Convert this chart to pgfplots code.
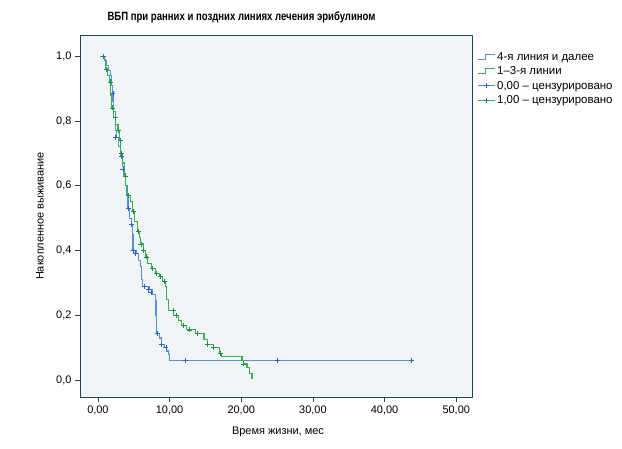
\documentclass[border=0pt]{standalone}
\usepackage{fontspec}
\setmainfont{Liberation Sans}
\usepackage{pgfplots}
\pgfplotsset{compat=1.18}
\definecolor{bl}{RGB}{85,145,220}
\definecolor{blm}{RGB}{45,95,205}
\definecolor{gr}{RGB}{60,175,80}
\definecolor{grm}{RGB}{25,145,75}
\definecolor{frame}{RGB}{30,70,85}
\definecolor{bg}{RGB}{242,245,248}
\begin{document}
\begin{tikzpicture}
\path[use as bounding box] (-80bp,-52bp) rectangle (542bp,397bp);
\begin{axis}[
  at={(0,0)}, anchor=south west,
  scale only axis, width=392bp, height=362bp,
  xmin=-2.5, xmax=52.2, ymin=-0.052, ymax=1.065,
  axis background/.style={fill=bg},
  axis line style={frame, line width=0.9pt},
  xtick={0,10,...,50}, ytick={0,0.2,0.4,0.6,0.8,1.0},
  tick align=outside, xtick pos=bottom, ytick pos=left,
  major tick length=5bp,
  tick style={frame, line width=0.7pt},
  /pgf/number format/assume math mode=true,
  xticklabel style={/pgf/number format/.cd, use comma, fixed, fixed zerofill, precision=2},
  yticklabel style={/pgf/number format/.cd, use comma, fixed, fixed zerofill, precision=1},
  ticklabel style={font=\fontsize{11}{13}\selectfont},
  xlabel={Время жизни, мес},
  ylabel={Накопленное выживание},
  label style={font=\fontsize{11}{13}\selectfont},
  xlabel style={at={(axis description cs:0.505,-0.097)}, anchor=center},
  ylabel style={at={(axis description cs:-0.102,0.5)}, anchor=center},
  title={\scalebox{0.8}[1]{ВБП при ранних и поздних линиях лечения эрибулином}},
  title style={font=\bfseries\fontsize{12}{14}\selectfont, at={(axis description cs:0.412,1)}, anchor=center, yshift=12bp},
  legend style={at={(axis description cs:1,1)}, anchor=north west, xshift=2bp, yshift=-13bp,
    draw=none, fill=none, font=\fontsize{11.5}{13}\selectfont, row sep=1bp},
  legend cell align=left,
]
\addplot[bl, line width=1.1pt, const plot, mark=none,
  legend image code/.code={\draw[color=bl, line width=1pt] (0bp,-2.5bp) -- (8bp,-2.5bp) -- (8bp,2.5bp) -- (17bp,2.5bp);}]
coordinates {
(0.3,1.0) (0.9,0.985) (1.2,0.97) (1.5,0.955) (1.7,0.94) (1.9,0.91) (2.0,0.885) (2.1,0.86)
(2.2,0.83) (2.4,0.80) (2.5,0.77) (2.6,0.75) (2.9,0.72) (3.2,0.69) (3.4,0.66) (3.6,0.63)
(3.8,0.60) (4.0,0.57) (4.2,0.53) (4.4,0.50) (4.7,0.48) (4.8,0.45) (4.9,0.40) (5.4,0.39)
(5.7,0.37) (6.0,0.35) (6.1,0.31) (6.2,0.29) (7.2,0.28) (7.6,0.265) (8.0,0.245) (8.1,0.20)
(8.2,0.145) (8.6,0.13) (8.9,0.11) (9.3,0.10) (9.6,0.09) (9.8,0.08) (10.0,0.062) (43.7,0.062)
};
\addlegendentry{4-я линия и далее}
\addplot[gr, line width=1.1pt, const plot, mark=none,
  legend image code/.code={\draw[color=gr, line width=1pt] (0bp,-2.5bp) -- (8bp,-2.5bp) -- (8bp,2.5bp) -- (17bp,2.5bp);}]
coordinates {
(0.3,1.0) (0.9,0.99) (1.1,0.96) (1.4,0.94) (1.6,0.92) (1.8,0.88) (1.9,0.84) (2.2,0.81)
(2.5,0.79) (2.8,0.77) (3.0,0.74) (3.2,0.70) (3.4,0.67) (3.7,0.63) (3.9,0.60) (4.1,0.57)
(4.5,0.55) (4.8,0.52) (5.1,0.49) (5.5,0.46) (5.8,0.44) (6.0,0.42) (6.3,0.40) (6.6,0.38)
(6.9,0.36) (7.5,0.345) (8.0,0.33) (8.6,0.32) (9.0,0.305) (9.4,0.29) (9.6,0.25) (9.8,0.215)
(10.6,0.20) (11.2,0.185) (11.7,0.17) (12.3,0.155) (13.6,0.145) (14.8,0.125) (15.3,0.11)
(16.1,0.10) (17.0,0.082) (17.3,0.072) (20.1,0.062) (20.3,0.05) (20.8,0.038) (21.2,0.02)
(21.5,0.006) (21.6,0.006)
};
\addlegendentry{1–3-я линии}
\addplot[only marks, mark=+, mark size=2.5bp, blm, line width=0.8pt,
  legend image code/.code={\draw[color=bl, line width=1pt] (0bp,0bp) -- (17bp,0bp); \draw[color=blm, line width=0.8pt] (8.5bp,-2.5bp) -- (8.5bp,2.5bp) (6bp,0bp) -- (11bp,0bp);}]
coordinates {
(0.8,1.0) (2.1,0.885) (2.5,0.75) (3.3,0.69) (3.5,0.65) (4.2,0.53) (4.7,0.48) (4.9,0.40)
(5.3,0.39) (6.5,0.29) (7.0,0.28) (7.4,0.27) (8.3,0.145) (8.9,0.11) (9.5,0.10) (12.2,0.062)
(25.0,0.062) (43.7,0.062)
};
\addlegendentry{0,00 – цензурировано}
\addplot[only marks, mark=+, mark size=2.5bp, grm, line width=0.8pt,
  legend image code/.code={\draw[color=gr, line width=1pt] (0bp,0bp) -- (17bp,0bp); \draw[color=grm, line width=0.8pt] (8.5bp,-2.5bp) -- (8.5bp,2.5bp) (6bp,0bp) -- (11bp,0bp);}]
coordinates {
(1.2,0.96) (1.7,0.92) (2.0,0.84) (2.4,0.81) (2.9,0.77) (3.1,0.74) (3.3,0.70) (3.8,0.63)
(4.2,0.57) (5.0,0.52) (5.6,0.46) (6.0,0.42) (6.4,0.40) (6.8,0.38) (7.6,0.345) (8.2,0.33)
(8.7,0.32) (9.3,0.305) (10.5,0.215) (11.0,0.20) (11.9,0.17) (12.8,0.155) (13.9,0.145)
(15.3,0.11) (16.1,0.10) (17.1,0.082) (20.3,0.05)
};
\addlegendentry{1,00 – цензурировано}
\end{axis}
\end{tikzpicture}
\end{document}
